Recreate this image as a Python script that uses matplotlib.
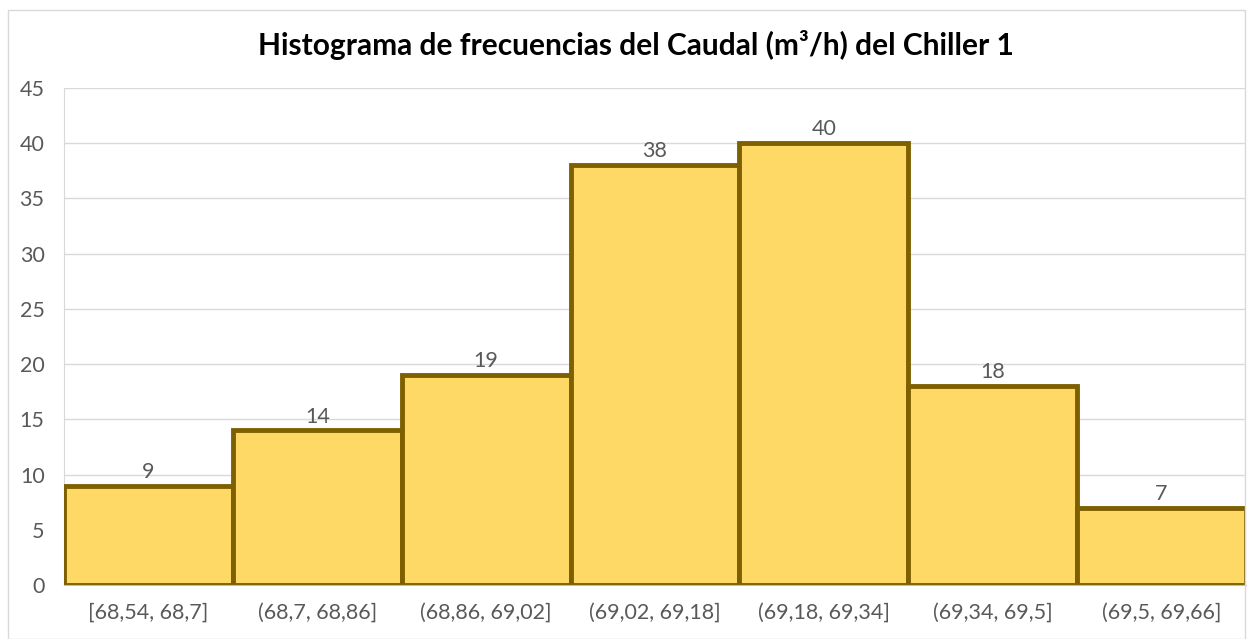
import matplotlib.pyplot as plt
from matplotlib.patches import Rectangle
import numpy as np

# Data
bins = ["[68,54, 68,7]", "(68,7, 68,86]", "(68,86, 69,02]", "(69,02, 69,18]",
        "(69,18, 69,34]", "(69,34, 69,5]", "(69,5, 69,66]"]
counts = [9, 14, 19, 38, 40, 18, 7]

plt.rcParams['font.family'] = ['Lato', 'DejaVu Sans']

fig = plt.figure(figsize=(12.53, 6.39), dpi=100)
fig.patches.append(Rectangle((8 / 1253, 0), 1 - 16 / 1253, 1 - 10 / 639,
                             transform=fig.transFigure, fill=False,
                             edgecolor='#D9D9D9', linewidth=1))
ax = fig.add_axes([64 / 1253, 1 - 585 / 639, (1246 - 64) / 1253, (585 - 88) / 639])

x = np.arange(len(counts))
bars = ax.bar(x, counts, width=1.0, color='#FFD966', edgecolor='#7F6000',
              linewidth=3.5, zorder=3)
for xi, c in zip(x, counts):
    ax.text(xi, c + 0.35, str(c), ha='center', va='bottom', fontsize=15.5,
            color='#595959', zorder=4)

ax.set_xlim(-0.5, len(counts) - 0.5)
ax.set_ylim(0, 45)
ax.set_yticks(range(0, 46, 5))
ax.set_xticks(x)
ax.set_xticklabels(bins)
ax.tick_params(axis='both', length=0, labelsize=15.5, colors='#595959')
ax.tick_params(axis='x', pad=13)
ax.tick_params(axis='y', pad=14)
ax.grid(axis='y', color='#D9D9D9', linewidth=1, zorder=0)
for s in ['top', 'right']:
    ax.spines[s].set_visible(False)
ax.spines['left'].set_color('#D9D9D9')
ax.spines['bottom'].set_color('#BFBFBF')
ax.spines['bottom'].set_zorder(5)

fig.text(636 / 1253, 1 - 45 / 639, 'Histograma de frecuencias del Caudal (m³/h) del Chiller 1',
         ha='center', va='center', fontsize=21.5, fontweight='bold', color='black')

fig.savefig('out.png', dpi=100)
